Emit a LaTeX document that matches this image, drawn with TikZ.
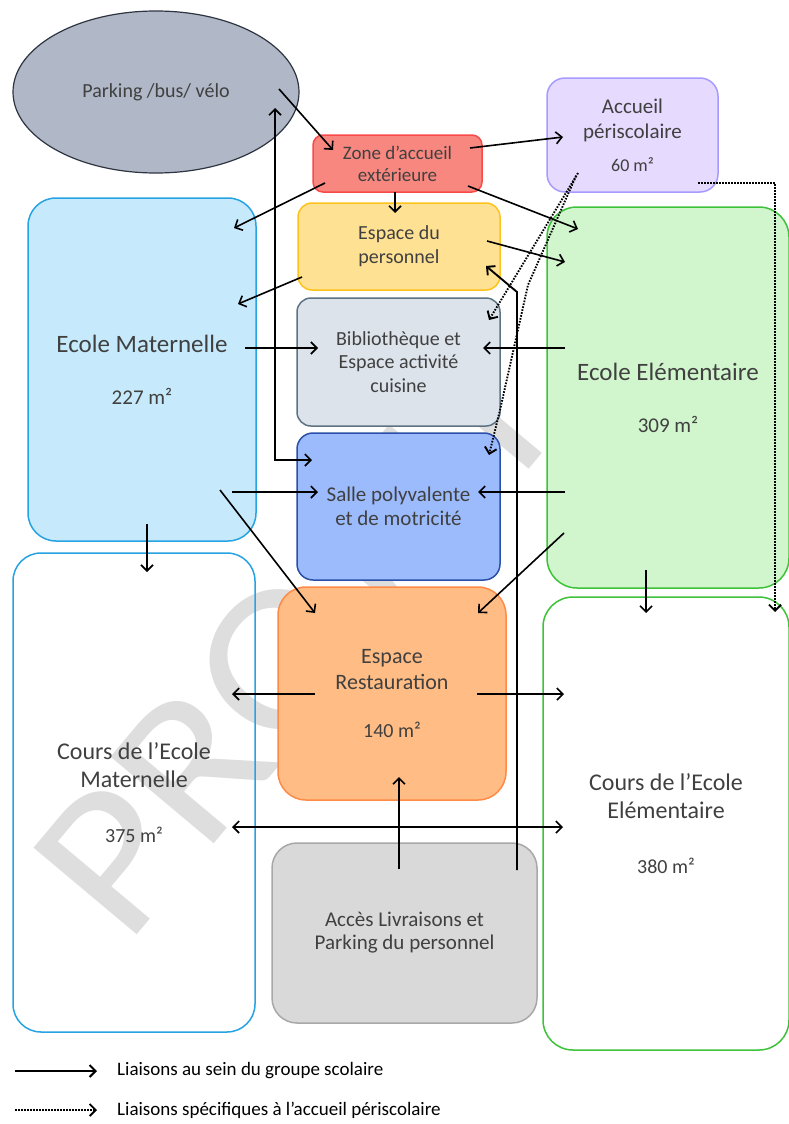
\documentclass[tikz,border=0pt]{standalone}
\usepackage{fontspec}
\setmainfont{Carlito}
\usetikzlibrary{arrows.meta,shapes.geometric}
\definecolor{txt}{HTML}{404040}
\definecolor{parkF}{HTML}{B0B7C6}\definecolor{parkD}{HTML}{2E3440}
\definecolor{zoneF}{HTML}{F7877F}\definecolor{zoneD}{HTML}{F94A4A}
\definecolor{accF}{HTML}{E6DAFE}\definecolor{accD}{HTML}{A79BFF}
\definecolor{persF}{HTML}{FFE194}\definecolor{persD}{HTML}{FFC21A}
\definecolor{bibF}{HTML}{DCE3EB}\definecolor{bibD}{HTML}{5D7383}
\definecolor{salF}{HTML}{9BBBFD}\definecolor{salD}{HTML}{2A4FA8}
\definecolor{matF}{HTML}{C6EAFC}\definecolor{matD}{HTML}{27A3E3}
\definecolor{eleF}{HTML}{D1F5CC}\definecolor{eleD}{HTML}{3EC23A}
\definecolor{resF}{HTML}{FFBC84}\definecolor{resD}{HTML}{FF8A45}
\definecolor{accesF}{HTML}{D9D9D9}\definecolor{accesD}{HTML}{A8A8A8}
\definecolor{wm}{HTML}{DEDEDE}
\tikzset{
  box/.style={draw, line width=1.5pt, inner sep=0pt, align=center, text=txt},
  conn/.style={line width=1.6pt, -{Straight Barb[length=6pt,width=12pt]}},
  biconn/.style={line width=1.6pt, {Straight Barb[length=6pt,width=12pt]}-{Straight Barb[length=6pt,width=12pt]}},
  peri/.style={line width=1.9pt, dash pattern=on 1.6pt off 1.4pt, -{Straight Barb[length=6pt,width=12pt]}},
}
\begin{document}
\begin{tikzpicture}[x=1pt,y=-1pt]
\useasboundingbox[fill=white] (0,0) rectangle (789,1124);
% watermark
\node[rotate=50, anchor=base, text=wm, inner sep=0pt, font=\fontsize{210}{210}\selectfont] (wmark) at (349,683) {\scalebox{1.1}[1]{PROJET}};

% nodes
\node[box, ellipse, fill=parkF, draw=parkD, line width=1.2pt, minimum width=286pt, minimum height=162pt,
      font=\fontsize{20}{24}\selectfont] (park) at (156,92) {Parking /bus/ vélo};
\node[box, fill=zoneF, draw=zoneD, rounded corners=10pt, minimum width=169pt, minimum height=57pt,
      font=\fontsize{19}{22}\selectfont] (zone) at (397.5,163.5) {Zone d'accueil\\extérieure};
\node[box, fill=accF, draw=accD, rounded corners=18pt, minimum width=171pt, minimum height=114pt,
      font=\fontsize{21}{25}\selectfont] (accueil) at (632.5,135) {Accueil\\périscolaire\\[8pt]{\fontsize{18}{22}\selectfont 60 m²}};
\node[box, fill=persF, draw=persD, rounded corners=14pt, minimum width=202pt, minimum height=87pt,
      font=\fontsize{20}{24}\selectfont] (pers) at (399,246.5) {Espace du\\personnel};
\node[box, fill=bibF, draw=bibD, rounded corners=14pt, minimum width=203pt, minimum height=128pt,
      font=\fontsize{20}{23.5}\selectfont] (biblio) at (398.5,362) {Bibliothèque et\\Espace activité\\cuisine};
\node[box, fill=salF, draw=salD, rounded corners=16pt, minimum width=203pt, minimum height=147pt,
      font=\fontsize{21}{24}\selectfont] (salle) at (398.5,506.5) {Salle polyvalente\\et de motricité};
\node[box, fill=matF, draw=matD, rounded corners=28pt, minimum width=228pt, minimum height=343pt,
      font=\fontsize{25}{30}\selectfont] (mat) at (142,369.5) {Ecole Maternelle\\[22pt]{\fontsize{21}{25}\selectfont 227 m²}};
\node[box, draw=matD, rounded corners=28pt, minimum width=242pt, minimum height=479pt,
      font=\fontsize{24}{28}\selectfont] (cmat) at (134,792.5) {Cours de l'Ecole\\Maternelle\\[27pt]{\fontsize{20}{24}\selectfont 375 m²}};
\node[box, fill=eleF, draw=eleD, rounded corners=30pt, minimum width=242pt, minimum height=381pt,
      font=\fontsize{25}{30}\selectfont] (elem) at (668,397.5) {Ecole Elémentaire\\[22pt]{\fontsize{21}{25}\selectfont 309 m²}};
\node[box, draw=eleD, rounded corners=30pt, minimum width=246pt, minimum height=453pt,
      font=\fontsize{24}{28}\selectfont] (celem) at (666,823.5) {Cours de l'Ecole\\Elémentaire\\[27pt]{\fontsize{20}{24}\selectfont 380 m²}};
\node[box, fill=resF, draw=resD, rounded corners=28pt, minimum width=228pt, minimum height=213pt,
      font=\fontsize{22}{26}\selectfont] (resto) at (392,693.5) {Espace\\Restauration\\[22pt]{\fontsize{20}{24}\selectfont 140 m²}};
\node[box, fill=accesF, draw=accesD, rounded corners=25pt, minimum width=265pt, minimum height=180pt,
      font=\fontsize{21}{23}\selectfont] (acces) at (404.5,933) {Accès Livraisons et\\Parking du personnel};

% solid connectors
\draw[conn] ([shift={(123,-3)}]park.center) -- ([shift={(-64.5,-13.5)}]zone.center);
\draw[conn] ([shift={(-72.5,19.5)}]zone.center) -- ([shift={(92,-141.5)}]mat.center);
\draw[conn] ([shift={(-2.5,28.5)}]zone.center) -- ([shift={(-4,-33.5)}]pers.center);
\draw[conn] ([shift={(72.5,-15.5)}]zone.center) -- ([shift={(-69.5,2)}]accueil.center);
\draw[conn] ([shift={(70.5,22.5)}]zone.center) -- ([shift={(-90,-168.5)}]elem.center);
\draw[conn] ([shift={(88,-5.5)}]pers.center) -- ([shift={(-103,-135.5)}]elem.center);
\draw[conn] ([shift={(-97,30.5)}]pers.center) -- ([shift={(96,-65.5)}]mat.center);
\draw[conn] ([shift={(103,-21.5)}]mat.center) -- ([shift={(-80.5,-14)}]biblio.center);
\draw[conn] ([shift={(-103,-49.5)}]elem.center) -- ([shift={(84.5,-14)}]biblio.center);
\draw[biconn] ([shift={(119,16)}]park.center) |- ([shift={(-86.5,-46.5)}]salle.center);
\draw[conn] ([shift={(90,122.5)}]mat.center) -- ([shift={(-80.5,-14.5)}]salle.center);
\draw[conn] ([shift={(-103,94.5)}]elem.center) -- ([shift={(79.5,-14.5)}]salle.center);
\draw[conn] ([shift={(78,120.5)}]mat.center) -- ([shift={(-77,-80.5)}]resto.center);
\draw[conn] ([shift={(-104,135.5)}]elem.center) -- ([shift={(86,-80.5)}]resto.center);
\draw[conn] ([shift={(5,154.5)}]mat.center) -- ([shift={(13,-220.5)}]cmat.center);
\draw[conn] ([shift={(-22,172.5)}]elem.center) -- ([shift={(-20,-210.5)}]celem.center);
\draw[conn] ([shift={(-77,0.5)}]resto.center) -- ([shift={(98,-98.5)}]cmat.center);
\draw[conn] ([shift={(85,0.5)}]resto.center) -- ([shift={(-102,-129.5)}]celem.center);
\draw[biconn] ([shift={(98,34.5)}]cmat.center) -- ([shift={(-103,3.5)}]celem.center);
\draw[conn] ([shift={(-5.5,-64)}]acces.center) -- ([shift={(7,83.5)}]resto.center);
\coordinate (bend21) at (517,292);
\draw[conn, line width=1.9pt] ([shift={(112.5,-63)}]acces.center) -- (bend21) -- ([shift={(87,19.5)}]pers.center);

% dotted connectors (periscolaire)
\draw[peri] ([shift={(-54.5,38)}]accueil.center) -- ([shift={(90.5,-42)}]biblio.center);
\coordinate (pb1) at (528,285);
\coordinate (pb2) at (500,410);
\draw[peri] ([shift={(-56.5,41)}]accueil.center) -- (pb1) -- (pb2) -- ([shift={(90.5,-51.5)}]salle.center);
\draw[peri] ([shift={(65.5,48)}]accueil.center) -| ([shift={(109,-211.5)}]celem.center);

% legend
\node[anchor=west, text=black, inner sep=0pt, font=\fontsize{19}{22}\selectfont] (leg1) at (117,1071) {Liaisons au sein du groupe scolaire};
\node[anchor=west, text=black, inner sep=0pt, font=\fontsize{19}{22}\selectfont] (leg2) at (117,1110) {Liaisons spécifiques à l'accueil périscolaire};
\coordinate (l1s) at (15,1071);
\coordinate (l2s) at (15,1110);
\draw[conn, line width=2pt] (l1s) -- ([xshift=-20pt]leg1.west);
\draw[peri] (l2s) -- ([xshift=-20pt]leg2.west);
\end{tikzpicture}
\end{document}
